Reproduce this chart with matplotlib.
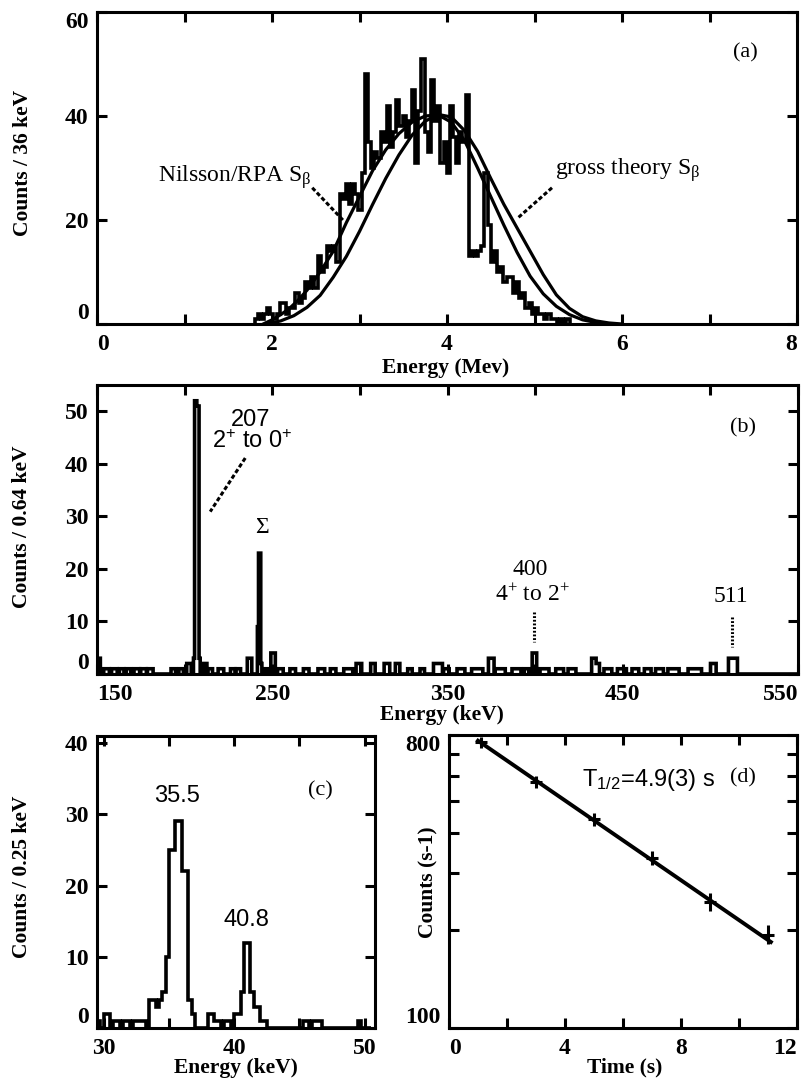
import numpy as np
import matplotlib
matplotlib.use("Agg")
import matplotlib.pyplot as plt
from matplotlib.ticker import FixedLocator, FixedFormatter, NullLocator

plt.rcParams["font.family"] = ["Liberation Serif", "DejaVu Serif"]
plt.rcParams["font.weight"] = "bold"
plt.rcParams["mathtext.default"] = "regular"

# ---------------- (a) beta energy spectrum, 36 keV bins ----------------
a_bin_start = 1.80
a_bin_width = 0.036
a_counts = [1, 2, 1, 2, 3, 2, 1, 2, 4, 4,
            2, 3, 3, 6, 4, 5, 8, 7, 9, 7,
            13, 10, 11, 15, 14, 15, 12, 25, 24, 27,
            23, 27, 25, 22, 29, 48, 35, 30, 33, 32,
            37, 35, 42, 34, 37, 43, 38, 40, 36, 39,
            45, 31, 41, 51, 37, 33, 47, 39, 42, 31,
            35, 29, 42, 36, 31, 37, 35, 44, 13, 14,
            13, 14, 15, 29, 19, 12, 14, 10, 11, 8,
            9, 9, 6, 8, 5, 6, 3, 4, 2, 3,
            2, 2, 1, 2, 1, 1, 0, 1, 0, 1]

nilsson_e = [1.90, 2.00, 2.10, 2.20, 2.30, 2.40, 2.55, 2.70, 2.85, 3.00,
             3.15, 3.30, 3.45, 3.60, 3.75, 3.90, 4.05, 4.20, 4.35, 4.50,
             4.65, 4.80, 4.95, 5.10, 5.25, 5.40, 5.55, 5.70, 5.85]
nilsson_c = [0.0, 0.8, 1.8, 3.0, 4.6, 6.5, 10.0, 14.0, 19.5, 24.5,
             29.5, 33.5, 36.6, 38.8, 40.0, 40.2, 38.8, 35.3, 30.0, 24.5,
             19.0, 13.8, 9.2, 5.8, 3.4, 1.8, 0.8, 0.3, 0.0]

gross_e = [1.95, 2.10, 2.25, 2.40, 2.55, 2.70, 2.85, 3.00, 3.15, 3.30,
           3.45, 3.60, 3.75, 3.90, 4.05, 4.20, 4.35, 4.50, 4.65, 4.80,
           4.95, 5.10, 5.25, 5.40, 5.55, 5.70, 5.85, 6.00]
gross_c = [0.0, 0.6, 1.6, 3.2, 5.5, 9.0, 13.0, 17.8, 23.0, 28.0,
           32.5, 36.3, 39.0, 40.3, 39.8, 37.2, 33.2, 28.0, 23.0, 18.5,
           14.0, 9.5, 5.6, 3.0, 1.4, 0.6, 0.2, 0.0]

# ---------------- (b) gamma spectrum, 0.64 keV bins ----------------
b_range = (150.0, 550.0)
b_bin_width = 0.64
b_seg_lo = [150.0, 154.0, 158.5, 162.5, 166.5, 171.0, 175.0, 179.0, 192.0, 196.5,
            201.0, 205.2, 205.8, 207.0, 208.3, 211.0, 213.5, 219.0, 226.0, 229.5,
            235.7, 241.3, 242.0, 243.4, 246.0, 249.5, 253.0, 260.0, 268.0, 276.0,
            283.0, 291.0, 298.0, 306.0, 314.0, 320.0, 327.0, 334.0, 342.0, 348.0,
            355.5, 364.0, 373.6, 377.0, 387.0, 394.0, 398.0, 403.0, 412.0, 419.0,
            432.0, 435.0, 439.0, 447.0, 455.0, 462.0, 469.0, 476.0, 487.0, 500.0,
            510.0]
b_seg_hi = [152.0, 157.0, 161.5, 165.5, 169.5, 174.0, 178.0, 182.0, 194.5, 199.0,
            203.5, 205.8, 207.0, 208.3, 209.0, 213.0, 216.0, 222.0, 228.5, 232.0,
            238.6, 242.0, 243.4, 244.2, 248.0, 251.5, 256.0, 263.0, 271.0, 280.0,
            286.0, 296.0, 301.0, 309.0, 317.0, 323.0, 330.0, 337.0, 347.0, 351.0,
            360.0, 370.0, 376.5, 383.0, 392.0, 396.5, 401.0, 408.0, 416.0, 423.0,
            434.6, 437.0, 444.0, 452.0, 459.0, 466.0, 473.0, 482.0, 495.0, 503.0,
            515.5]
b_seg_cnt = [3, 1, 1, 1, 1, 1, 1, 1, 1, 1,
             2, 3, 52, 51, 3, 2, 1, 1, 1, 1,
             3, 9, 23, 2, 1, 4, 1, 1, 1, 1,
             1, 1, 2, 2, 2, 2, 1, 1, 2, 1,
             1, 1, 3, 1, 1, 1, 4, 1, 1, 1,
             3, 2, 1, 1, 1, 1, 1, 1, 1, 2,
             3]

# ---------------- (c) x-ray spectrum, 0.25 keV bins ----------------
c_bin_start = 29.5
c_bin_width = 0.25
c_counts = [1, 0, 2, 2, 0, 1, 1, 0, 1, 1,
            0, 1, 1, 1, 1, 0, 4, 4, 3, 4,
            5, 10, 25, 25, 29, 29, 22, 22, 4, 2,
            0, 0, 0, 0, 2, 2, 1, 1, 0, 1,
            1, 0, 2, 2, 5, 12, 12, 5, 3, 3,
            1, 1, 0, 0, 0, 0, 0, 0, 0, 0,
            0, 0, 0, 1, 1, 0, 1, 1, 1, 0,
            0, 0, 0, 0, 0, 0, 0, 0, 0, 0,
            1, 0, 0, 0]

# ---------------- (d) decay curve ----------------
d_time = [1.1, 3.0, 5.0, 7.0, 9.0, 11.0]
d_rate = [760, 575, 440, 335, 245, 194]
d_rate_err = [30, 25, 20, 17, 16, 13]
d_time_err = [0.22, 0.22, 0.22, 0.22, 0.22, 0.22]
half_life = 4.9
d_rate0 = 885
fit_t = [1.0, 11.1]

# ======================================================================
W, H = 802, 1078
fig = plt.figure(figsize=(W / 100, H / 100), dpi=100)

LW = 2.6


def add_axes_px(left, top, right, bottom):
    return fig.add_axes([left / W, 1 - bottom / H, (right - left) / W, (bottom - top) / H])


def ftext(x, y, s, **kw):
    fig.text(x / W, 1 - y / H, s, **kw)


def style_axes(ax):
    for sp in ax.spines.values():
        sp.set_linewidth(2.2)
    ax.tick_params(which="both", direction="in", top=True, right=True,
                   length=7, width=2.2, labelsize=17, pad=6)
    ax.tick_params(axis="x", pad=7)


def nudge_ends(ax, x=True, y=True):
    if x:
        xt = ax.xaxis.get_major_ticks()
        xt[0].label1.set_horizontalalignment("left")
        xt[-1].label1.set_horizontalalignment("right")
    if y:
        yt = ax.yaxis.get_major_ticks()
        yt[0].label1.set_verticalalignment("bottom")
        yt[-1].label1.set_verticalalignment("top")


ANN = dict(fontweight="normal", color="black")
SANS = ["Liberation Sans", "DejaVu Sans"]
DASH = (0, (1.4, 0.8))
DOT = (0, (0.6, 0.6))

# ---------------- panel (a) ----------------
ax = add_axes_px(97, 12, 797, 324)
a_edges = a_bin_start + a_bin_width * np.arange(len(a_counts) + 1)
ax.stairs(a_counts, a_edges, baseline=0, color="black", lw=LW)
ax.plot(nilsson_e, nilsson_c, color="black", lw=2.3)
ax.plot(gross_e, gross_c, color="black", lw=2.3)
ax.set_xlim(0, 8)
ax.set_ylim(0, 60)
style_axes(ax)
ax.set_xticks(range(9))
ax.set_xticklabels(["0", "", "2", "", "4", "", "6", "", "8"])
ax.set_yticks([0, 20, 40, 60])
nudge_ends(ax, x=True, y=True)
ax.text(0.70, 28.3, r"Nilsson/RPA S$_{\beta}$", fontsize=17, ha="left", va="center", **ANN)
ax.plot([2.46, 2.81], [26.2, 20.0], color="black", lw=2.2, ls=DASH)
ax.text(5.23, 29.6, r"gross theory $S_{\beta}$", fontsize=17, ha="left", va="center", **ANN)
ax.plot([5.20, 4.81], [26.2, 20.4], color="black", lw=2.2, ls=DASH)
ax.text(7.41, 52.1, "(a)", fontsize=16, ha="center", va="center", **ANN)
ftext(23, 163, "Counts / 36 keV", rotation=90, ha="center", va="center", fontsize=15.5)
ftext(446, 368, "Energy (Mev)", ha="center", va="center", fontsize=15.5)

# ---------------- panel (b) ----------------
ax = add_axes_px(97, 385, 798, 674)
b_edges = np.arange(b_range[0], b_range[1] + b_bin_width / 2, b_bin_width)
b_centers = 0.5 * (b_edges[:-1] + b_edges[1:])
b_counts = np.zeros(len(b_centers))
for lo, hi, c in zip(b_seg_lo, b_seg_hi, b_seg_cnt):
    b_counts[(b_centers >= lo) & (b_centers < hi)] = c
ax.stairs(b_counts, b_edges, baseline=0, color="black", lw=LW)
ax.set_xlim(150, 550)
ax.set_ylim(0, 55)
style_axes(ax)
ax.set_xticks(np.arange(150, 551, 50))
ax.set_xticklabels(["150", "", "250", "", "350", "", "450", "", "550"])
ax.set_yticks(range(0, 51, 10))
nudge_ends(ax, x=True, y=False)
ax.yaxis.get_major_ticks()[0].label1.set_verticalalignment("bottom")
ax.text(237.4, 48.4, "207", fontsize=17, ha="center", va="center", family=SANS, **ANN)
ax.text(238.6, 44.3, r"2$^{+}$ to 0$^{+}$", fontsize=17, ha="center", va="center", family=SANS, **ANN)
ax.plot([234.6, 214.6], [41.1, 30.9], color="black", lw=2.2, ls=DASH)
ax.text(244.3, 27.8, r"$\Sigma$", fontsize=17, ha="center", va="center", **ANN)
ax.text(397.4, 19.8, "400", fontsize=17, ha="center", va="center", **ANN)
ax.text(398.6, 15.0, r"4$^{+}$ to 2$^{+}$", fontsize=17, ha="center", va="center", **ANN)
ax.plot([399.1, 399.1], [11.8, 6.1], color="black", lw=2.2, ls=DOT)
ax.text(511.7, 14.7, "511", fontsize=17, ha="center", va="center", **ANN)
ax.plot([512.3, 512.3], [10.9, 5.1], color="black", lw=2.2, ls=DOT)
ax.text(518.6, 46.9, "(b)", fontsize=16, ha="center", va="center", **ANN)
ftext(22, 527, "Counts / 0.64 keV", rotation=90, ha="center", va="center", fontsize=15.5)
ftext(442, 715, "Energy (keV)", ha="center", va="center", fontsize=15.5)

# ---------------- panel (c) ----------------
ax = add_axes_px(97, 736, 375, 1028)
c_edges = c_bin_start + c_bin_width * np.arange(len(c_counts) + 1)
ax.stairs(c_counts, c_edges, baseline=0, color="black", lw=LW)
ax.set_xlim(29.5, 50.8)
ax.set_ylim(0, 41)
style_axes(ax)
ax.set_xticks([30, 35, 40, 45, 50])
ax.set_xticklabels(["30", "", "40", "", "50"])
ax.set_yticks([0, 10, 20, 30, 40])
ax.yaxis.get_major_ticks()[0].label1.set_verticalalignment("bottom")
ax.text(35.63, 32.6, "35.5", fontsize=17, ha="center", va="center", family=SANS, **ANN)
ax.text(40.92, 15.2, "40.8", fontsize=17, ha="center", va="center", family=SANS, **ANN)
ax.text(46.59, 33.3, "(c)", fontsize=16, ha="center", va="center", **ANN)
ftext(22, 877, "Counts / 0.25 keV", rotation=90, ha="center", va="center", fontsize=15.5)
ftext(236, 1068, "Energy (keV)", ha="center", va="center", fontsize=15.5)

# ---------------- panel (d) ----------------
ax = add_axes_px(449, 735, 797, 1028)
ax.set_yscale("log")
ax.errorbar(d_time, d_rate, xerr=d_time_err, yerr=d_rate_err, fmt="none",
            ecolor="black", elinewidth=2.2, capsize=0)
tt = np.array(fit_t)
ax.plot(tt, d_rate0 * 2.0 ** (-tt / half_life), color="black", lw=2.8)
ax.set_xlim(0, 12)
ax.set_ylim(100, 800)
style_axes(ax)
ax.set_xticks(range(0, 13, 2))
ax.set_xticklabels(["0", "", "4", "", "8", "", "12"])
yt = [100, 200, 300, 400, 500, 600, 700, 800]
ax.yaxis.set_major_locator(FixedLocator(yt))
ax.yaxis.set_major_formatter(FixedFormatter(["100", "", "", "", "", "", "", "800"]))
ax.yaxis.set_minor_locator(NullLocator())
nudge_ends(ax, x=True, y=True)
ax.text(4.59, 581, r"T$_{1/2}$=4.9(3) s", fontsize=17, ha="left", va="center", family=SANS, **ANN)
ax.text(10.14, 589, "(d)", fontsize=16, ha="center", va="center", **ANN)
ftext(428, 882, "Counts (s-1)", rotation=90, ha="center", va="center", fontsize=15.5)
ftext(625, 1067, "Time (s)", ha="center", va="center", fontsize=15.5)

fig.savefig("out.png", dpi=100)
